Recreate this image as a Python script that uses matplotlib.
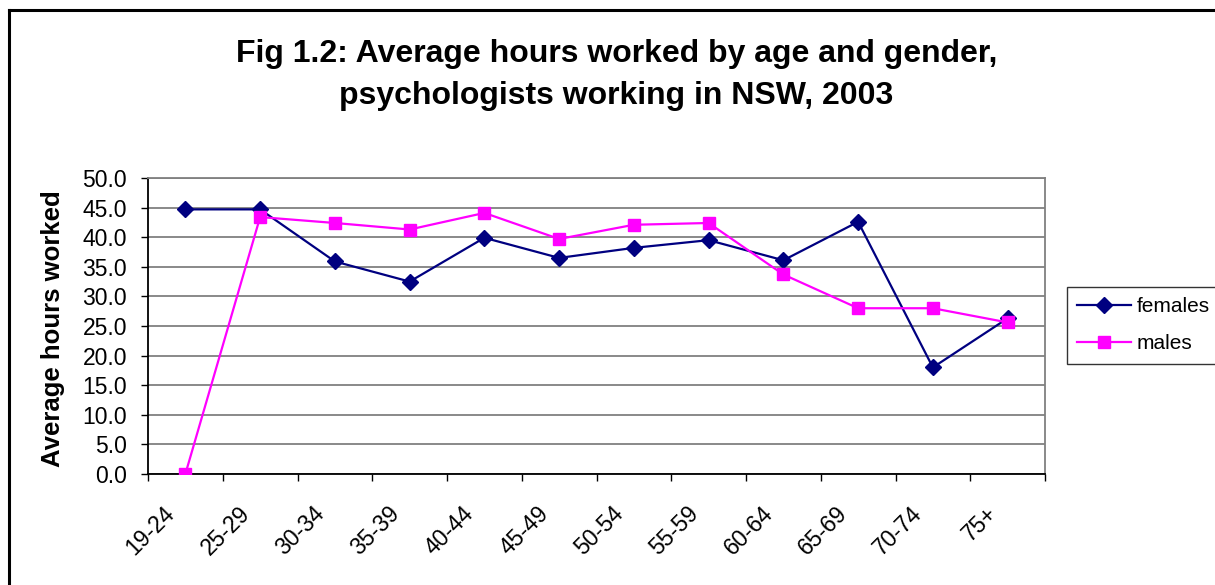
import matplotlib.pyplot as plt
from matplotlib.lines import Line2D
import matplotlib.transforms as mtransforms

# data
age_groups = ['19-24', '25-29', '30-34', '35-39', '40-44', '45-49',
              '50-54', '55-59', '60-64', '65-69', '70-74', '75+']
females = [44.7, 44.7, 35.9, 32.5, 39.9, 36.5, 38.2, 39.5, 36.1, 42.6, 18.0, 26.3]
males = [0.0, 43.4, 42.4, 41.3, 44.1, 39.7, 42.1, 42.4, 33.7, 28.0, 28.0, 25.6]
y_ticks = [0, 5, 10, 15, 20, 25, 30, 35, 40, 45, 50]

plt.rcParams['font.family'] = ['Liberation Sans', 'DejaVu Sans']

W, H = 1215, 585
fig = plt.figure(figsize=(W / 100, H / 100), dpi=100)

# outer chart border (only top and left visible in the crop)
fig.add_artist(Line2D([9 / W, 9 / W], [1 - 10 / H, 0], transform=fig.transFigure, color='black', lw=2.2))
fig.add_artist(Line2D([9 / W, 1], [1 - 10 / H, 1 - 10 / H], transform=fig.transFigure, color='black', lw=2.2))

left, right, top, bottom = 148, 1045, 178, 474
ax = fig.add_axes([left / W, 1 - bottom / H, (right - left) / W, (bottom - top) / H])

x = list(range(len(age_groups)))
ax.plot(x, females, color='#000080', marker='D', markersize=8.5, lw=1.6, label='females', zorder=3)
ax.plot(x, males, color='#FF00FF', marker='s', markersize=8, lw=1.6, label='males', zorder=3)

ax.set_xlim(-0.5, len(age_groups) - 0.5)
ax.set_ylim(0, 50)

ax.set_yticks(y_ticks)
ax.set_yticklabels([f'{v:.1f}' for v in y_ticks], fontsize=16.5)
ax.yaxis.grid(True, color='#808080', lw=1.3)
ax.set_axisbelow(True)

# category boundaries get tick marks, labels sit in between
ax.set_xticks([i - 0.5 for i in range(len(age_groups) + 1)])
ax.set_xticklabels([])
ax.set_xticks(x, minor=True)
ax.set_xticklabels(age_groups, minor=True, rotation=45, ha='right', va='center',
                   rotation_mode='anchor', fontsize=16.5)
ax.tick_params(axis='x', which='minor', length=0, pad=26)
offset = mtransforms.ScaledTranslation(-14 / 100, 0, fig.dpi_scale_trans)
for lbl in ax.xaxis.get_minorticklabels():
    lbl.set_transform(lbl.get_transform() + offset)
ax.tick_params(axis='both', which='major', direction='out', length=5, width=1, color='black')
ax.tick_params(axis='y', pad=10)

for side in ['top', 'right']:
    ax.spines[side].set_color('#808080')
    ax.spines[side].set_linewidth(1.3)
for side in ['left', 'bottom']:
    ax.spines[side].set_color('black')
    ax.spines[side].set_linewidth(1.3)

fig.text(53 / W, 1 - 328.5 / H, 'Average hours worked', rotation=90,
         ha='center', va='center', fontsize=18.5, fontweight='bold')

fig.text(616.5 / W, 1 - 62 / H, 'Fig 1.2: Average hours worked by age and gender,',
         ha='center', va='baseline', fontsize=23, fontweight='bold')
fig.text(616.5 / W, 1 - 104 / H, 'psychologists working in NSW, 2003',
         ha='center', va='baseline', fontsize=23, fontweight='bold')

leg = fig.legend(loc='upper left', bbox_to_anchor=(1067 / W, 1 - 287 / H), fontsize=15,
                 frameon=True, fancybox=False, edgecolor='black', handlelength=2.55,
                 borderpad=0.5, labelspacing=0.85, handletextpad=0.3, borderaxespad=0)
leg.get_frame().set_linewidth(1)

fig.savefig('out.png', dpi=100)
